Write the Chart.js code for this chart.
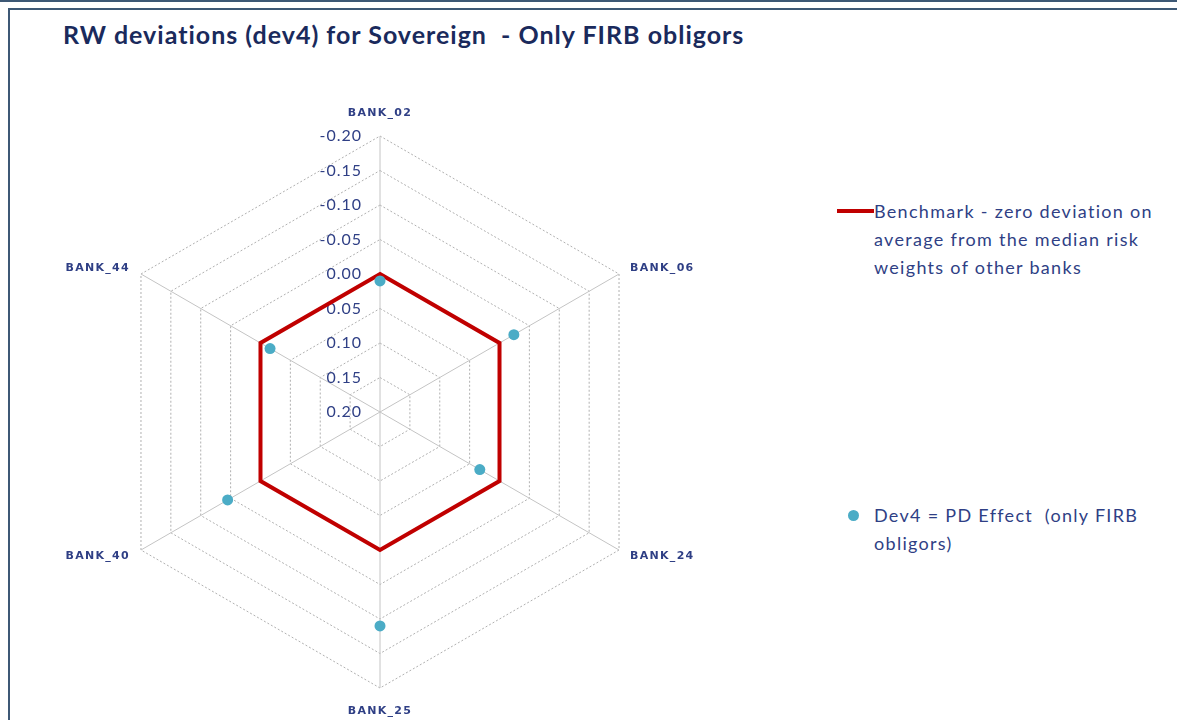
<!DOCTYPE html>
<html>
<head>
<meta charset="utf-8">
<script src="https://cdn.jsdelivr.net/npm/chart.js@4.4.0/dist/chart.umd.min.js"></script>
<style>
body{margin:0;background:#fff;width:1177px;height:720px;overflow:hidden;position:relative;font-family:Lato,sans-serif}
#topline{position:absolute;left:0;top:0;width:1177px;height:2px;background:#3d5875}
#frame{position:absolute;left:8px;top:8px;width:1180px;height:720px;border-left:2px solid #3d5875;border-top:2px solid #3d5875}
#title{position:absolute;left:63px;top:19px;font-weight:bold;font-size:25px;letter-spacing:1px;color:#1a2a5c;white-space:pre}
#wrap{position:absolute;left:0;top:0;width:760px;height:720px}
.leg{position:absolute;left:874px;font-size:18px;letter-spacing:1.3px;line-height:28px;color:#2f3f85;white-space:pre}
#legLine{position:absolute;left:837px;top:209px;width:37px;height:4px;background:#c00000}
#legDot{position:absolute;left:848px;top:510px;width:11px;height:11px;border-radius:50%;background:#4bacc6}
</style>
</head>
<body>
<div id="topline"></div>
<div id="frame"></div>
<div id="title">RW deviations (dev4) for Sovereign  - Only FIRB obligors</div>
<div id="wrap"><canvas id="myChart"></canvas></div>
<div id="legLine"></div>
<div class="leg" style="top:197px">Benchmark - zero deviation on
average from the median risk
weights of other banks</div>
<div id="legDot"></div>
<div class="leg" style="top:501px">Dev4 = PD Effect  (only FIRB
obligors)</div>
<script>
const banks = ['BANK_02', 'BANK_06', 'BANK_24', 'BANK_25', 'BANK_40', 'BANK_44'];
const benchmark = [0, 0, 0, 0, 0, 0];
const dev4 = [0.010, -0.024, 0.033, -0.110, -0.055, 0.016];

// Excel-style labels: ticks left of the vertical axis, bank names by the corners
const excelLabels = {
    id: 'excelLabels',
    beforeDatasetsDraw(chart) {
        const s = chart.scales.r;
        const c = chart.ctx;
        c.save();
        c.font = '16px Lato';
        c.letterSpacing = '1px';
        c.fillStyle = '#2f3f85';
        c.textAlign = 'right';
        c.textBaseline = 'middle';
        s.ticks.forEach(t => {
            let v = Math.abs(t.value) < 1e-9 ? 0 : t.value;
            const y = s.yCenter - s.getDistanceFromCenterForValue(t.value);
            c.fillText(v.toFixed(2), s.xCenter - 18, y);
        });

        c.font = 'bold 11px "DejaVu Sans"';
        c.letterSpacing = '1.3px';
        banks.forEach((b, i) => {
            const p = s.getPointPosition(i, s.drawingArea);
            const dx = p.x - s.xCenter, dy = p.y - s.yCenter;
            if (Math.abs(dx) < 1) {
                c.textAlign = 'center';
                c.fillText(b, p.x, p.y + Math.sign(dy) * 23);
            } else {
                c.textAlign = dx > 0 ? 'left' : 'right';
                c.fillText(b, p.x + Math.sign(dx) * 11, p.y + Math.sign(dy) * 6);
            }
        });
        c.restore();
    }
};

const ctx = document.getElementById('myChart');
const myChart = new Chart(ctx, {
    type: 'radar',
    data: {
        labels: banks,
        datasets: [{
            label: 'Dev4 = PD Effect  (only FIRB obligors)',
            data: dev4,
            borderColor: 'rgba(0,0,0,0)',
            borderWidth: 0,
            fill: false,
            pointRadius: 5.5,
            pointBackgroundColor: '#4bacc6',
            pointBorderWidth: 0
        }, {
            label: 'Benchmark',
            data: benchmark,
            borderColor: '#c00000',
            borderWidth: 4,
            fill: false,
            pointRadius: 0
        }]
    },
    options: {
        responsive: true,
        maintainAspectRatio: false,
        animation: false,
        layout: { padding: { top: 136, bottom: 32 } },
        plugins: {
            legend: { display: false },
            tooltip: { enabled: false }
        },
        scales: {
            r: {
                min: -0.2,
                max: 0.2,
                reverse: true,
                ticks: { stepSize: 0.05, display: false },
                grid: { color: '#b0b0b0', lineWidth: 1 },
                border: { dash: [2, 2] },
                angleLines: { color: '#c4c4c4', lineWidth: 1 },
                pointLabels: { display: false }
            }
        }
    },
    plugins: [excelLabels]
});
</script>
</body>
</html>
